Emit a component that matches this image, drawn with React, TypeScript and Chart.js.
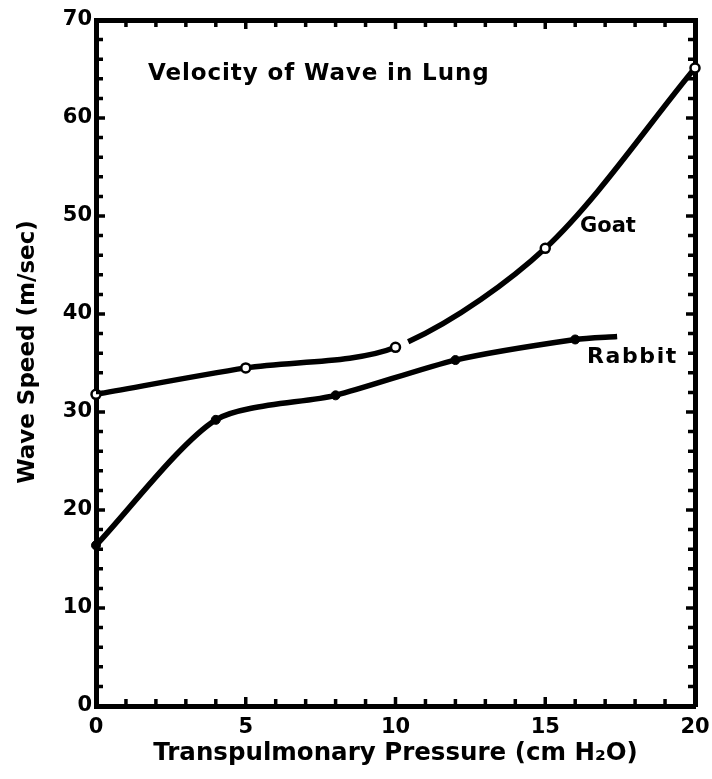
import React, { useEffect, useRef } from "react";
import { Chart, registerables } from "chart.js";

Chart.register(...registerables);

const goatX = [0, 5, 10, 15, 20];
const goatY = [31.8, 34.5, 36.6, 46.7, 65.1];
const rabbitX = [0, 4, 8, 12, 16, 17.4];
const rabbitY = [16.4, 29.2, 31.7, 35.3, 37.4, 37.7];
const rabbitMarker = [true, true, true, true, true, false];

const chartTitle = "Velocity of Wave in Lung";
const goatLabel = "Goat";
const rabbitLabel = "Rabbit";
const xTitle = "Transpulmonary Pressure (cm H\u2082O)";
const yTitle = "Wave Speed (m/sec)";

const FONT = "'DejaVu Sans', sans-serif";
const INK = "#000";

const decorPlugin = {
  id: "decor",
  afterDraw(chart: any) {
    const { ctx, chartArea, scales } = chart;
    const x = scales.x;
    const y = scales.y;
    ctx.save();
    ctx.strokeStyle = INK;
    ctx.lineWidth = 3.5;
    ctx.lineCap = "butt";
    for (let v = 1; v < 20; v++) {
      const px = x.getPixelForValue(v);
      const len = v % 5 === 0 ? 9 : 7;
      ctx.beginPath();
      ctx.moveTo(px, chartArea.bottom);
      ctx.lineTo(px, chartArea.bottom - len);
      ctx.moveTo(px, chartArea.top);
      ctx.lineTo(px, chartArea.top + len);
      ctx.stroke();
    }
    for (let v = 2; v < 70; v += 2) {
      const py = y.getPixelForValue(v);
      const len = v % 10 === 0 ? 9 : 7;
      ctx.beginPath();
      ctx.moveTo(chartArea.left, py);
      ctx.lineTo(chartArea.left + len, py);
      ctx.moveTo(chartArea.right, py);
      ctx.lineTo(chartArea.right - len, py);
      ctx.stroke();
    }
    ctx.fillStyle = INK;
    ctx.textBaseline = "middle";
    ctx.textAlign = "left";
    ctx.font = `bold 23px ${FONT}`;
    (ctx as any).letterSpacing = "0.9px";
    ctx.fillText(chartTitle, 148, 74);
    ctx.font = `bold 21px ${FONT}`;
    (ctx as any).letterSpacing = "0px";
    ctx.fillText(goatLabel, 580, 227);
    ctx.font = `bold 22px ${FONT}`;
    (ctx as any).letterSpacing = "1.6px";
    ctx.fillText(rabbitLabel, 587, 357);
    // y-axis title
    (ctx as any).letterSpacing = "0px";
    ctx.font = `bold 23px ${FONT}`;
    ctx.translate(28, 352);
    ctx.rotate(-Math.PI / 2);
    ctx.textAlign = "center";
    ctx.fillText(yTitle, 0, 0);
    ctx.restore();
  },
};

export default function App() {
  const ref = useRef<HTMLCanvasElement>(null);

  useEffect(() => {
    if (!ref.current) return;
    const tickFont = { family: FONT, size: 21, weight: "bold" as const };
    const titleFont = { family: FONT, size: 24.5, weight: "bold" as const };
    const chart = new Chart(ref.current, {
      type: "line",
      data: {
        datasets: [
          {
            label: goatLabel,
            data: goatX.map((v, i) => ({ x: v, y: goatY[i] })),
            borderColor: INK,
            borderWidth: 5.5,
            tension: 0.3,
            pointRadius: 4.5,
            pointBorderWidth: 2.5,
            pointBackgroundColor: "#fff",
            pointBorderColor: INK,
            clip: false as any,
            segment: {
              borderDash: (c: any) => (c.p0DataIndex === 2 ? [0, 14, 5000, 0] : undefined),
            },
          },
          {
            label: rabbitLabel,
            data: rabbitX.map((v, i) => ({ x: v, y: rabbitY[i] })),
            borderColor: INK,
            borderWidth: 5.5,
            tension: 0.25,
            pointRadius: rabbitMarker.map((m) => (m ? 4.5 : 0)),
            pointBorderWidth: 1,
            pointBackgroundColor: INK,
            pointBorderColor: INK,
            clip: false as any,
          },
        ],
      },
      options: {
        responsive: false,
        animation: false,
        devicePixelRatio: 1,
        layout: { padding: 0 },
        plugins: {
          legend: { display: false },
          tooltip: { enabled: false },
          title: { display: false },
        },
        scales: {
          x: {
            type: "linear",
            position: "bottom",
            min: 0,
            max: 20,
            ticks: { stepSize: 5, color: INK, font: tickFont, padding: 0, maxRotation: 0 },
            grid: { display: false, drawTicks: true, tickLength: 9 },
            border: { display: true, width: 5, color: INK },
            title: {
              display: true,
              text: xTitle,
              color: INK,
              font: titleFont,
              padding: { top: 0, bottom: 11 },
            },
            afterFit: (s: any) => {
              s.height = 73;
            },
          },
          y: {
            type: "linear",
            position: "left",
            min: 0,
            max: 70,
            ticks: { stepSize: 10, color: INK, font: tickFont, padding: 0 },
            grid: { display: false, drawTicks: true, tickLength: 4 },
            border: { display: true, width: 5, color: INK },
            title: { display: false },
            afterFit: (s: any) => {
              s.width = 96;
            },
          },
          x2: {
            type: "linear",
            axis: "x",
            position: "top",
            min: 0,
            max: 20,
            ticks: { display: false },
            grid: { display: false, drawTicks: false },
            border: { display: true, width: 5, color: INK },
            afterFit: (s: any) => {
              s.height = 20;
            },
          },
          y2: {
            type: "linear",
            axis: "y",
            position: "right",
            min: 0,
            max: 70,
            ticks: { display: false },
            grid: { display: false, drawTicks: false },
            border: { display: true, width: 5, color: INK },
            afterFit: (s: any) => {
              s.width = 17;
            },
          },
        } as any,
      },
      plugins: [decorPlugin],
    });
    return () => chart.destroy();
  }, []);

  return (
    <div style={{ position: "absolute", left: 0, top: 0, width: 712, height: 779, background: "#fff" }}>
      <canvas ref={ref} width={712} height={779} style={{ display: "block" }} />
    </div>
  );
}
